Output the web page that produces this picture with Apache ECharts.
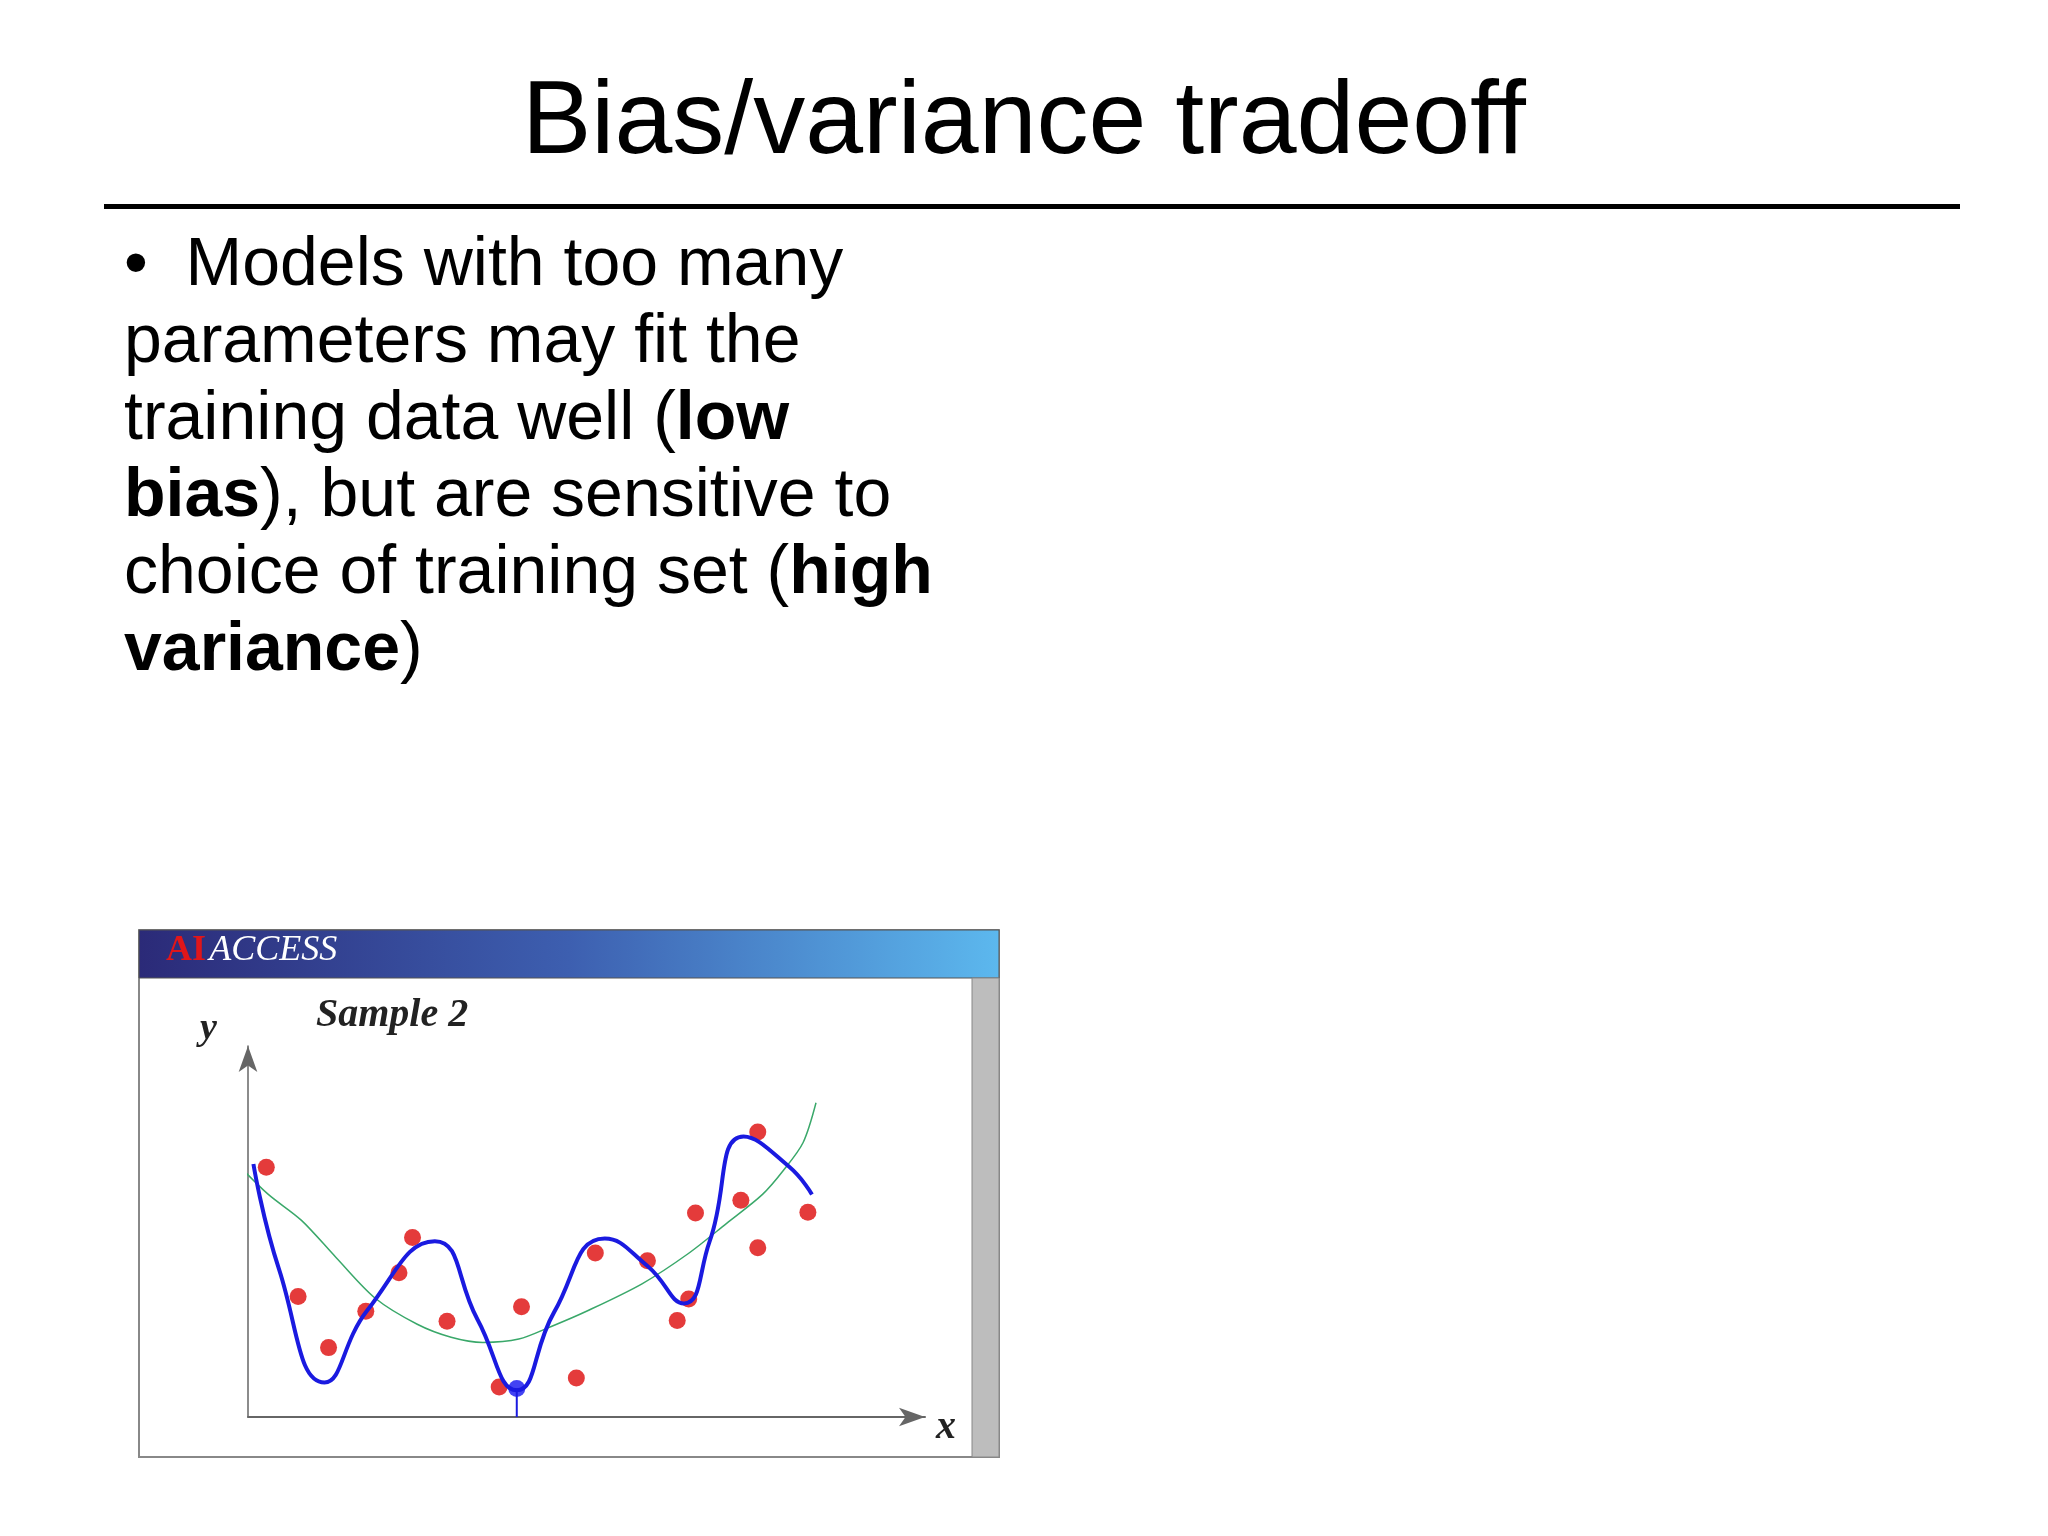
<!DOCTYPE html>
<html>
<head>
<meta charset="utf-8">
<script src="https://cdn.jsdelivr.net/npm/echarts@6/dist/echarts.min.js"></script>
<style>
  html, body { margin: 0; padding: 0; background: #fff; }
  #chart { width: 2048px; height: 1536px; }
</style>
</head>
<body>
<div id="chart"></div>
<script>
// sample points (x, y), axis units 0..100
const redPoints = [
  [2.7, 67.3], [7.4, 32.5], [11.9, 18.7], [17.4, 28.5], [22.3, 38.9],
  [24.3, 48.4], [29.4, 25.8], [37.1, 8.1], [40.4, 29.7], [48.5, 10.5],
  [51.3, 44.2], [59.0, 42.1], [63.4, 26.0], [65.1, 31.8], [66.1, 55.0],
  [72.8, 58.4], [75.3, 76.8], [75.3, 45.6], [82.7, 55.2]
];
const bluePoint = [[39.7, 7.7]];
const blueStem = [[39.7, 0], [39.7, 7.7]];
// high-variance fit
const blueCurve = [
  [0.8, 68.2], [4.6, 39.7], [11.3, 9.3], [17.6, 28.7], [27.6, 47.4],
  [33.9, 26.3], [39.7, 7.2], [45.2, 28.2], [52.7, 48.1], [59.0, 40.7],
  [64.4, 30.6], [68.2, 47.4], [73.2, 75.6], [79.9, 67.5], [83.3, 60.0]
];
// low-variance fit
const greenCurve = [
  [-1.3, 67.7], [3, 60], [7.9, 53], [13, 43], [18.8, 32], [25, 25],
  [30, 21.5], [34.7, 20.1], [40, 21], [44.8, 24.4], [50, 28.5],
  [58.2, 35.9], [65, 44], [70.7, 52.2], [76, 60], [79.1, 66.5],
  [82, 74], [83.9, 84.7]
];

const bulletLines = [
  '{n|•  Models with too many}',
  '{n|parameters may fit the}',
  '{n|training data well (}{b|low}',
  '{b|bias}{n|), but are sensitive to}',
  '{n|choice of training set (}{b|high}',
  '{b|variance}{n|)}'
];

const chart = echarts.init(document.getElementById('chart'));
const font = 'Liberation Sans, Arial, sans-serif';

chart.setOption({
  animation: false,
  backgroundColor: '#fff',
  grid: { left: 248, top: 1046, width: 677, height: 371 },
  xAxis: {
    type: 'value', min: 0, max: 100,
    axisLine: { lineStyle: { color: '#666', width: 2 }, symbol: ['none', 'arrow'], symbolSize: [14, 26] },
    axisTick: { show: false }, axisLabel: { show: false }, splitLine: { show: false }
  },
  yAxis: {
    type: 'value', min: 0, max: 100,
    axisLine: { lineStyle: { color: '#666', width: 1.5 }, symbol: ['none', 'arrow'], symbolSize: [14, 26] },
    axisTick: { show: false }, axisLabel: { show: false }, splitLine: { show: false }
  },
  graphic: [
    { type: 'text', left: 'center', top: 72,
      style: { text: 'Bias/variance tradeoff', font: '104px ' + font, fill: '#000' } },
    { type: 'rect', shape: { x: 104, y: 204, width: 1856, height: 5 }, style: { fill: '#000' } },
    { type: 'text', left: 124, top: 232,
      style: {
        text: bulletLines.join('\n'),
        rich: {
          n: { font: '68px ' + font, fill: '#000', lineHeight: 77 },
          b: { font: 'bold 68px ' + font, fill: '#000', lineHeight: 77 }
        }
      } },
    // panel
    { type: 'rect', z: -10, shape: { x: 139, y: 930, width: 860, height: 527 },
      style: { fill: '#fff', stroke: '#888', lineWidth: 2 } },
    { type: 'rect', z: -9, shape: { x: 139, y: 930, width: 860, height: 48 },
      style: {
        fill: new echarts.graphic.LinearGradient(0, 0, 1, 0, [
          { offset: 0, color: '#2b2a78' }, { offset: 0.5, color: '#3d5fb0' }, { offset: 1, color: '#5cb8ee' }
        ]),
        stroke: '#555', lineWidth: 1
      } },
    { type: 'rect', z: -9, shape: { x: 972, y: 978, width: 27, height: 479 },
      style: { fill: '#bdbdbd', stroke: '#888', lineWidth: 1 } },
    { type: 'text', left: 166, top: 933,
      style: {
        text: '{r|AI} {w|ACCESS}',
        rich: {
          r: { font: 'bold 36px Liberation Serif, serif', fill: '#e0161a' },
          w: { font: 'italic 36px Liberation Serif, serif', fill: '#fff' }
        }
      } },
    { type: 'text', left: 316, top: 996,
      style: { text: 'Sample 2', font: 'italic bold 40px Liberation Serif, serif', fill: '#222' } },
    { type: 'text', left: 200, top: 1010,
      style: { text: 'y', font: 'italic bold 38px Liberation Serif, serif', fill: '#222' } },
    { type: 'text', left: 936, top: 1408,
      style: { text: 'x', font: 'italic bold 40px Liberation Serif, serif', fill: '#222' } }
  ],
  series: [
    { type: 'line', data: greenCurve, smooth: 0.3, symbol: 'none', clip: false,
      lineStyle: { color: '#3aa86a', width: 1.5 } },
    { type: 'line', data: blueCurve, smooth: true, symbol: 'none', clip: false,
      lineStyle: { color: '#1a1ae0', width: 4 } },
    { type: 'line', data: blueStem, symbol: 'none', lineStyle: { color: '#1a1ae0', width: 2 } },
    { type: 'scatter', data: redPoints, symbolSize: 17, itemStyle: { color: '#dd0a0a' } },
    { type: 'scatter', data: bluePoint, symbolSize: 17, itemStyle: { color: '#1414f0' } }
  ]
});
</script>
</body>
</html>
